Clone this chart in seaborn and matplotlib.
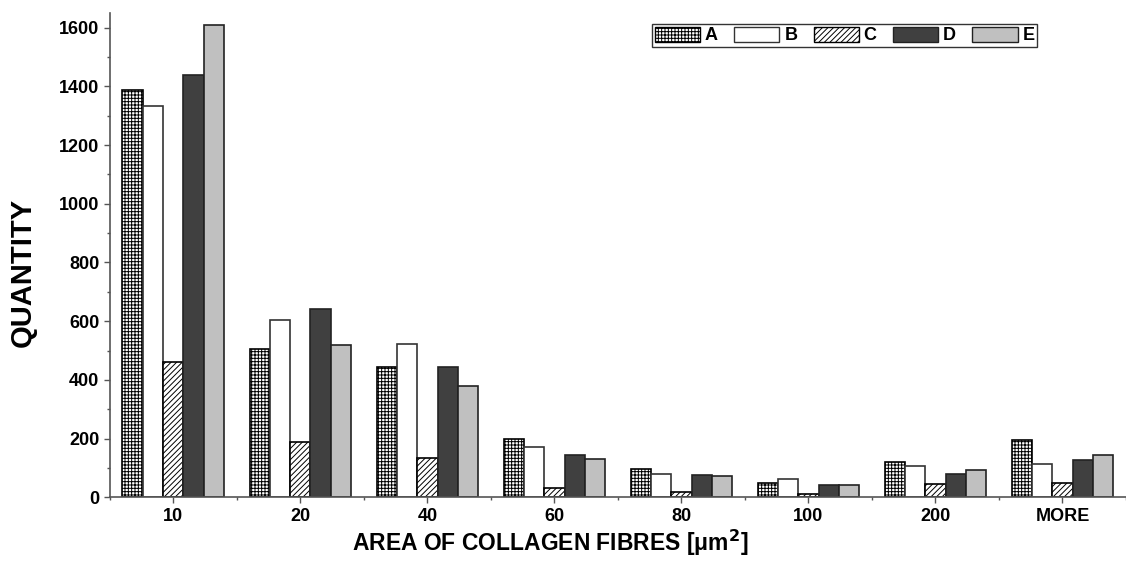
import matplotlib
matplotlib.use("Agg")
import matplotlib.pyplot as plt
from matplotlib.patches import Patch
from matplotlib.ticker import MultipleLocator, FixedLocator
import seaborn as sns
import pandas as pd

categories = ["10", "20", "40", "60", "80", "100", "200", "MORE"]
series_names = ["A", "B", "C", "D", "E"]
values_A = [1386, 507, 443, 200, 95, 48, 121, 197]
values_B = [1332, 603, 522, 172, 78, 64, 108, 112]
values_C = [462, 187, 133, 33, 19, 13, 47, 50]
values_D = [1437, 641, 445, 146, 76, 42, 81, 126]
values_E = [1610, 520, 381, 129, 72, 42, 93, 144]

face_colors = ["white", "white", "white", "#404040", "#c0c0c0"]
hatches = ["+++++", "", "//////", "", ""]
edge_colors = ["black", "#333333", "black", "#222222", "#222222"]

rows = []
for name, vals in zip(series_names, [values_A, values_B, values_C, values_D, values_E]):
    for c, v in zip(categories, vals):
        rows.append({"cat": c, "series": name, "value": v})
df = pd.DataFrame(rows)

sns.set_style("ticks")
plt.rcParams["font.family"] = ["Liberation Sans", "DejaVu Sans"]
plt.rcParams["font.weight"] = "bold"
plt.rcParams["hatch.linewidth"] = 0.7
plt.rcParams["hatch.color"] = "black"
plt.rcParams["text.color"] = "black"
plt.rcParams["axes.labelcolor"] = "black"
plt.rcParams["xtick.labelcolor"] = "black"
plt.rcParams["ytick.labelcolor"] = "black"

fig = plt.figure(figsize=(11.26, 5.62), dpi=100)
ax = fig.add_axes([0.0975, 0.115, 0.9025, 0.862])

sns.barplot(data=df, x="cat", y="value", hue="series", order=categories,
            hue_order=series_names, width=0.8, legend=False, ax=ax,
            palette=face_colors, saturation=1)

for cont, fc, h, ec in zip(ax.containers, face_colors, hatches, edge_colors):
    for p in cont:
        p.set_facecolor(fc)
        p.set_hatch(h)
        p.set_edgecolor(ec)
        p.set_linewidth(1.2)

ax.set_xlim(-0.5, 7.5)
ax.set_ylim(0, 1650)
ax.yaxis.set_major_locator(MultipleLocator(200))
ax.yaxis.set_minor_locator(MultipleLocator(100))
ax.xaxis.set_minor_locator(FixedLocator([i + 0.5 for i in range(-1, 8)]))
ax.tick_params(axis="both", which="major", direction="out", length=4, width=1,
               labelsize=13, color="#555555", labelcolor="black")
ax.tick_params(axis="both", which="minor", direction="out", length=2.5, width=1,
               color="#555555")
for lab in ax.get_xticklabels() + ax.get_yticklabels():
    lab.set_fontweight("bold")

sns.despine(ax=ax, top=True, right=True)
for s in ["left", "bottom"]:
    ax.spines[s].set_color("#555555")
    ax.spines[s].set_linewidth(1.2)

ax.set_ylabel("QUANTITY", fontsize=21, fontweight="bold", color="black")
ax.yaxis.set_label_coords(-0.072, 0.465)
ax.set_xlabel("AREA OF COLLAGEN FIBRES [μm$^\\mathbf{2}$]", fontsize=16.5,
              fontweight="bold", color="black")
ax.xaxis.set_label_coords(0.433, -0.062)

handles = [Patch(facecolor=fc, hatch=h, edgecolor=ec, linewidth=1.0)
           for fc, h, ec in zip(face_colors, hatches, edge_colors)]
leg = ax.legend(handles, series_names, ncol=5, loc="upper left",
                bbox_to_anchor=(0.5335, 0.977), frameon=True, fancybox=False,
                prop={"weight": "bold", "size": 13}, handlelength=2.5,
                handleheight=0.9, handletextpad=0.28, columnspacing=0.9,
                borderpad=0.15, borderaxespad=0)
leg.get_frame().set_edgecolor("black")
leg.get_frame().set_linewidth(1.0)

fig.savefig("out.png", dpi=100)
